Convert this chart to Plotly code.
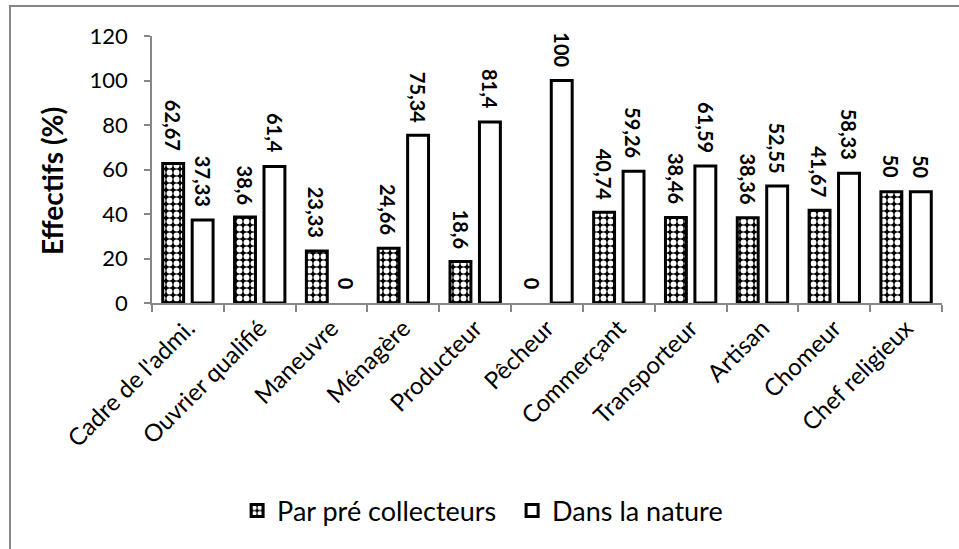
import plotly.graph_objects as go

categories = ["Cadre de l'admi.", "Ouvrier qualifié", "Maneuvre", "Ménagère",
              "Producteur", "Pêcheur", "Commerçant", "Transporteur",
              "Artisan", "Chomeur", "Chef religieux"]
par_pre_collecteurs = [62.67, 38.6, 23.33, 24.66, 18.6, 0, 40.74, 38.46, 38.36, 41.67, 50]
dans_la_nature = [37.33, 61.4, 0, 75.34, 81.4, 100, 59.26, 61.59, 52.55, 58.33, 50]
y_ticks = [0, 20, 40, 60, 80, 100, 120]

FONT = "Lato, 'Open Sans', sans-serif"
W, H = 959, 549
X0, X1 = 152, 942          # plot area, pixels
Y_TOP, Y_BOT = 36, 303
CAT_W = (X1 - X0) / len(categories)
BARGAP, GROUPGAP = 0.18, 0.29
SLOT = CAT_W * (1 - BARGAP) / 2
EDGE = 3


def fr(v):
    return f"{v:g}".replace(".", ",")


def edges(vals):
    # zero-height bars get no outline so nothing shows on the axis
    return [0 if v == 0 else EDGE for v in vals]


fig = go.Figure()
fig.add_trace(go.Bar(
    name="Par pré collecteurs", x=categories, y=par_pre_collecteurs,
    marker=dict(color="black",
                line=dict(color="black", width=edges(par_pre_collecteurs)),
                pattern=dict(shape=".", fgcolor="white", bgcolor="black",
                             size=7, solidity=0.55, fillmode="replace")),
))
fig.add_trace(go.Bar(
    name="Dans la nature", x=categories, y=dans_la_nature,
    marker=dict(color="white",
                line=dict(color="black", width=edges(dans_la_nature))),
))

# value labels, rotated, above each bar of the group
for vals, dx in ((par_pre_collecteurs, -SLOT / 2), (dans_la_nature, SLOT / 2)):
    for cat, v in zip(categories, vals):
        fig.add_annotation(x=cat, y=v, xref="x", yref="y", text=f"<b>{fr(v)}</b>",
                           showarrow=False, textangle=90, xshift=dx, yshift=11,
                           yanchor="bottom", xanchor="center",
                           font=dict(family=FONT, size=20, color="black"))

# y-axis title
fig.add_annotation(x=52 / W, y=1 - 181 / H, xref="paper", yref="paper",
                   text="<b>Effectifs (%)</b>", showarrow=False, textangle=-90,
                   xanchor="center", yanchor="middle",
                   font=dict(family=FONT, size=28, color="black"))

# outer chart frame (runs off the right and bottom edges)
fig.add_shape(type="rect", xref="paper", yref="paper",
              x0=10 / W, x1=1.05, y0=-0.05, y1=1 - 6 / H,
              line=dict(color="#868686", width=2), fillcolor="rgba(0,0,0,0)")

fig.update_layout(
    width=W, height=H, margin=dict(l=0, r=0, t=0, b=0, autoexpand=False),
    paper_bgcolor="white", plot_bgcolor="white",
    font=dict(family=FONT, size=20, color="black"),
    barmode="group", bargap=BARGAP, bargroupgap=GROUPGAP,
    showlegend=True,
    legend=dict(orientation="h", x=0.534, xanchor="center", y=1 - 511 / H,
                yanchor="middle", font=dict(size=27), itemwidth=30,
                traceorder="normal", entrywidth=230),
    xaxis=dict(domain=[X0 / W, X1 / W], automargin=False, showline=True,
               linecolor="#868686", linewidth=1.5, ticks="outside",
               tickson="boundaries", ticklen=7, tickcolor="#868686",
               tickwidth=1.5, tickangle=-45, tickfont=dict(size=24),
               showgrid=False),
    yaxis=dict(domain=[1 - Y_BOT / H, 1 - Y_TOP / H], range=[0, 120],
               automargin=False, tickvals=y_ticks, showline=True,
               linecolor="#868686", linewidth=1.5, ticks="outside", ticklen=6,
               tickcolor="#868686", tickwidth=1.5, showgrid=False,
               zeroline=False, tickfont=dict(size=22), ticklabelstandoff=12),
)

fig.write_html("out.html")
